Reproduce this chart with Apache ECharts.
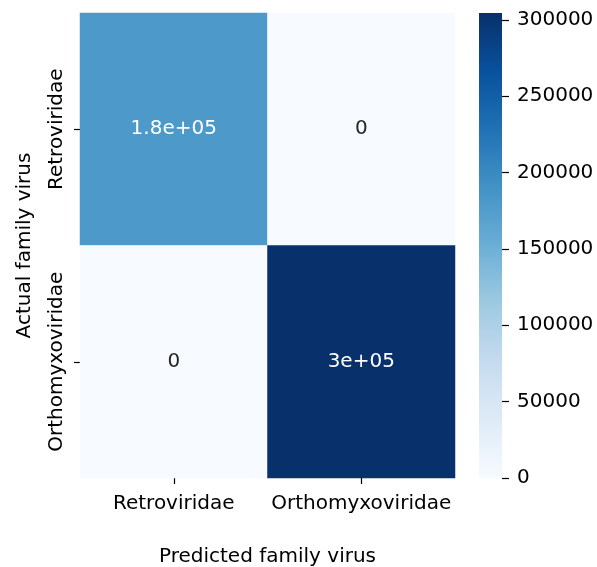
<!DOCTYPE html>
<html>
<head>
<meta charset="utf-8">
<script src="https://cdn.jsdelivr.net/npm/echarts@6/dist/echarts.min.js"></script>
<style>
  html, body { margin: 0; padding: 0; background: #fff; }
  #chart { width: 597px; height: 567px; }
</style>
</head>
<body>
<div id="chart"></div>
<script>
  // confusion matrix: rows = actual, columns = predicted
  var families = ['Retroviridae', 'Orthomyxoviridae']
  var retroRow = [180000, 0]
  var orthoRow = [0, 304500]
  var colorMax = 304500
  var colorTicks = [0, 50000, 100000, 150000, 200000, 250000, 300000]
  var blues = ['#f7fbff', '#deebf7', '#c6dbef', '#9ecae1', '#6baed6', '#4292c6', '#2171b5', '#08519c', '#08306b']

  var font = 'DejaVu Sans'
  var fs = 20

  // python style '.2g'
  function fmt2g (v) {
    if (v === 0) return '0'
    var e = Math.floor(Math.log10(Math.abs(v)))
    if (e < -4 || e >= 2) {
      var m = (v / Math.pow(10, e)).toFixed(1)
      if (parseFloat(m) >= 10) { e += 1; m = (v / Math.pow(10, e)).toFixed(1) }
      m = m.replace(/\.0$/, '')
      var es = Math.abs(e) < 10 ? '0' + Math.abs(e) : '' + Math.abs(e)
      return m + 'e' + (e < 0 ? '-' : '+') + es
    }
    return String(parseFloat(v.toPrecision(2)))
  }

  var rows = [retroRow, orthoRow]
  var cells = []
  for (var r = 0; r < rows.length; r++) {
    for (var c = 0; c < rows[r].length; c++) {
      var v = rows[r][c]
      cells.push({
        value: [c, r, v],
        label: { color: v / colorMax > 0.47 ? '#ffffff' : '#262626' }
      })
    }
  }

  var stops = blues.map(function (col, i) {
    return { offset: i / (blues.length - 1), color: col }
  })

  var myChart = echarts.init(document.getElementById('chart'))
  var option = {
    animation: false,
    backgroundColor: '#fff',
    grid: [
      { left: 80, top: 13, width: 375, height: 465, outerBoundsMode: 'none', containLabel: false },
      { left: 479, top: 13, width: 23, height: 465, outerBoundsMode: 'none', containLabel: false }
    ],
    xAxis: [
      {
        type: 'category',
        gridIndex: 0,
        data: families,
        position: 'bottom',
        axisLine: { show: false },
        axisTick: { show: true, alignWithLabel: true, length: 6, lineStyle: { color: '#000', width: 1.2 } },
        axisLabel: { color: '#000', fontFamily: font, fontSize: fs, margin: 16, interval: 0 },
        splitLine: { show: false },
        name: 'Predicted family virus',
        nameLocation: 'middle',
        nameGap: 69,
        nameTextStyle: { color: '#000', fontFamily: font, fontSize: fs }
      },
      {
        type: 'category',
        gridIndex: 1,
        data: [''],
        show: false
      }
    ],
    yAxis: [
      {
        type: 'category',
        gridIndex: 0,
        data: families,
        inverse: true,
        axisLine: { show: false },
        axisTick: { show: true, alignWithLabel: true, length: 6, lineStyle: { color: '#000', width: 1.2 } },
        axisLabel: { color: '#000', fontFamily: font, fontSize: fs, rotate: 90, margin: 13, interval: 0 },
        splitLine: { show: false },
        name: 'Actual family virus',
        nameLocation: 'middle',
        nameGap: 45,
        nameTextStyle: { color: '#000', fontFamily: font, fontSize: fs }
      },
      {
        type: 'value',
        gridIndex: 1,
        position: 'right',
        min: 0,
        max: colorMax,
        axisLine: { show: false },
        axisTick: { show: true, length: 7, customValues: colorTicks, lineStyle: { color: '#000', width: 1.2 } },
        axisLabel: {
          color: '#000', fontFamily: font, fontSize: fs, margin: 15, customValues: colorTicks,
          formatter: function (v) { return String(v) }
        },
        splitLine: { show: false }
      }
    ],
    visualMap: {
      show: false,
      type: 'continuous',
      seriesIndex: 0,
      min: 0,
      max: colorMax,
      inRange: { color: blues }
    },
    series: [
      {
        type: 'heatmap',
        xAxisIndex: 0,
        yAxisIndex: 0,
        data: cells,
        label: {
          show: true,
          fontFamily: font,
          fontSize: fs,
          formatter: function (p) { return fmt2g(p.value[2]) }
        },
        emphasis: { disabled: true }
      },
      {
        type: 'bar',
        xAxisIndex: 1,
        yAxisIndex: 1,
        data: [colorMax],
        barWidth: '100%',
        itemStyle: { color: new echarts.graphic.LinearGradient(0, 1, 0, 0, stops) },
        silent: true
      }
    ]
  }
  myChart.setOption(option)
</script>
</body>
</html>
